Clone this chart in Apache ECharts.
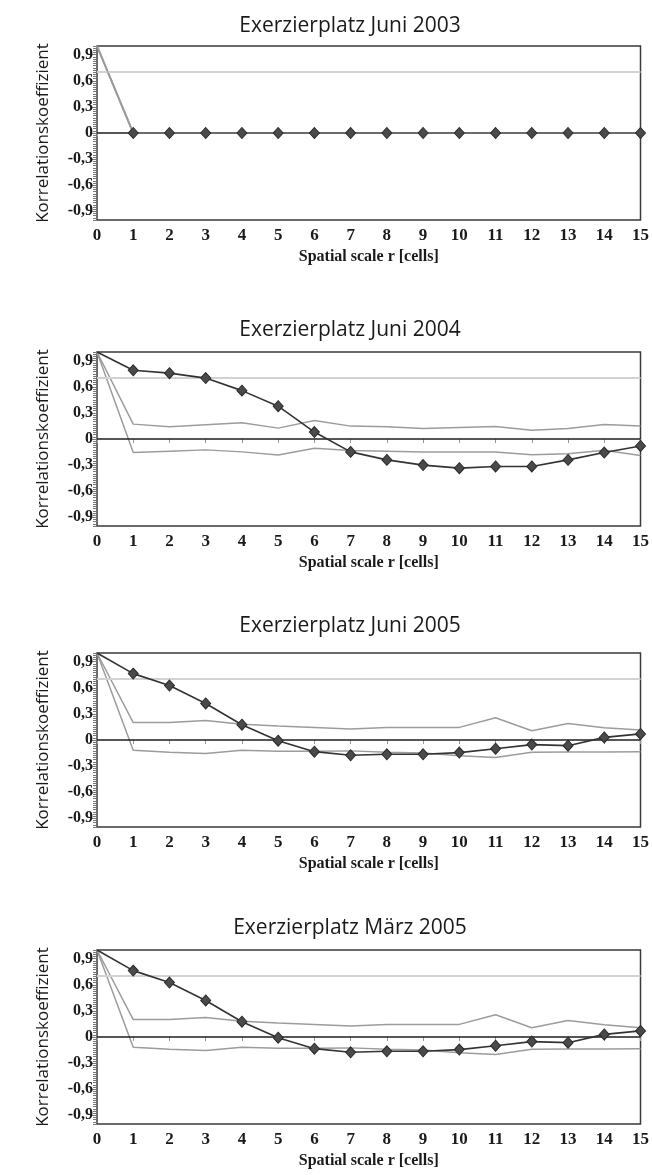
<!DOCTYPE html>
<html>
<head>
<meta charset="utf-8">
<script src="https://cdn.jsdelivr.net/npm/echarts@6/dist/echarts.min.js"></script>
<style>
html,body{margin:0;padding:0;background:#fff;}
#chart{width:652px;height:1175px;}
</style>
</head>
<body>
<div id="chart"></div>
<script>
// ---- data ----
const xCells = [0,1,2,3,4,5,6,7,8,9,10,11,12,13,14,15];
const yTickValues = [-0.9,-0.6,-0.3,0,0.3,0.6,0.9];
const panelTitles = ['Exerzierplatz Juni 2003','Exerzierplatz Juni 2004','Exerzierplatz Juni 2005','Exerzierplatz März 2005'];
const xAxisTitle = 'Spatial scale r [cells]';
const yAxisTitle = 'Korrelationskoeffizient';
const thresholdValue = 0.7;

const jun2003Main  = [1,0,0,0,0,0,0,0,0,0,0,0,0,0,0,0];
const jun2003Upper = [1,0,0,0,0,0,0,0,0,0,0,0,0,0,0,0];
const jun2003Lower = [1,0,0,0,0,0,0,0,0,0,0,0,0,0,0,0];

const jun2004Main  = [1,0.79,0.757,0.70,0.556,0.377,0.08,-0.148,-0.24,-0.30,-0.335,-0.316,-0.316,-0.24,-0.156,-0.08];
const jun2004Upper = [1,0.171,0.14,0.164,0.186,0.125,0.213,0.148,0.14,0.12,0.133,0.145,0.10,0.12,0.167,0.15];
const jun2004Lower = [1,-0.156,-0.14,-0.125,-0.148,-0.183,-0.107,-0.133,-0.14,-0.15,-0.15,-0.15,-0.18,-0.17,-0.13,-0.19];

const jun2005Main  = [1,0.763,0.626,0.42,0.176,-0.008,-0.134,-0.176,-0.164,-0.164,-0.145,-0.10,-0.053,-0.065,0.03,0.07];
const jun2005Upper = [1,0.20,0.20,0.225,0.18,0.16,0.145,0.126,0.145,0.145,0.145,0.256,0.107,0.19,0.14,0.115];
const jun2005Lower = [1,-0.118,-0.14,-0.156,-0.118,-0.13,-0.13,-0.125,-0.14,-0.15,-0.18,-0.20,-0.14,-0.137,-0.137,-0.134];

const mar2005Main  = [1,0.763,0.626,0.42,0.176,-0.008,-0.134,-0.176,-0.164,-0.164,-0.145,-0.10,-0.053,-0.065,0.03,0.07];
const mar2005Upper = [1,0.20,0.20,0.225,0.18,0.16,0.145,0.126,0.145,0.145,0.145,0.256,0.107,0.19,0.14,0.105];
const mar2005Lower = [1,-0.118,-0.14,-0.156,-0.118,-0.13,-0.13,-0.125,-0.14,-0.15,-0.18,-0.20,-0.14,-0.137,-0.137,-0.134];

const panels = [
  {main: jun2003Main, upper: jun2003Upper, lower: jun2003Lower},
  {main: jun2004Main, upper: jun2004Upper, lower: jun2004Lower},
  {main: jun2005Main, upper: jun2005Upper, lower: jun2005Lower},
  {main: mar2005Main, upper: mar2005Upper, lower: mar2005Lower}
];

// ---- layout / style ----
const gridTops = [46, 352, 653, 950];
const gridHeight = 174;
const titleTops = [11, 315, 611, 913];
const serif = '"Liberation Serif", "DejaVu Serif", serif';
const sans = '"Open Sans", "Noto Sans", sans-serif';
const envColor = '#9c9c9c';
const mainColor = '#333333';

function pairs(arr){ return arr.map((v,i)=>[xCells[i], v]); }
function fmt(v){
  if (Math.abs(v) < 1e-9) return '0';
  return (Math.round(v*10)/10).toFixed(1).replace('.', ',');
}

const option = {
  animation: false,
  backgroundColor: '#ffffff',
  title: [], grid: [], xAxis: [], yAxis: [], series: []
};

panels.forEach((p, k) => {
  option.title.push({
    text: panelTitles[k], left: 345, top: titleTops[k], textAlign: 'center',
    textStyle: {fontFamily: sans, fontSize: 21, fontWeight: 'normal', color: '#1a1a1a'}
  });
  option.grid.push({
    left: 97, width: 545, top: gridTops[k], height: gridHeight,
    show: true, borderColor: '#3a3a3a', borderWidth: 1.5, backgroundColor: 'transparent'
  });
  option.xAxis.push({
    type: 'value', gridIndex: k, min: 0, max: 15, interval: 1,
    name: xAxisTitle, nameLocation: 'middle', nameGap: 29,
    nameTextStyle: {fontFamily: serif, fontSize: 16, fontWeight: 'bold', color: '#1a1a1a'},
    axisLine: {show: false},
    axisTick: {show: true, length: 4, lineStyle: {color: '#999', width: 1}},
    axisLabel: {fontFamily: serif, fontSize: 17, fontWeight: 'bold', color: '#1a1a1a', margin: 7,
      showMinLabel: true, showMaxLabel: true},
    splitLine: {show: false}
  });
  option.yAxis.push({
    type: 'value', gridIndex: k, min: -1, max: 1,
    name: yAxisTitle, nameLocation: 'middle', nameGap: 45,
    nameTextStyle: {fontFamily: sans, fontSize: 17, color: '#1a1a1a'},
    axisLine: {show: false},
    axisTick: {show: true, customValues: yTickValues, length: 5, lineStyle: {color: '#888'}},
    axisLabel: {customValues: yTickValues, formatter: fmt, fontFamily: serif, fontSize: 16,
      fontWeight: 'bold', color: '#1a1a1a', margin: 4},
    splitLine: {show: false}
  });
  option.yAxis.push({
    type: 'value', gridIndex: k, min: -1, max: 1, interval: 0.025, position: 'left', offset: 0,
    axisLine: {show: false},
    axisTick: {show: true, length: 4, lineStyle: {color: '#777', width: 1}},
    axisLabel: {show: false},
    splitLine: {show: false}
  });
  const yIdx = k * 2;
  const mainSeriesData = pairs(p.main).map((d, i) => i === 0 ? {value: d, symbol: 'none'} : {value: d});
  option.series.push({
    type: 'line', xAxisIndex: k, yAxisIndex: yIdx, data: pairs(p.lower),
    showSymbol: false, symbol: 'none', z: 2,
    lineStyle: {color: envColor, width: 1.5},
    markLine: {
      silent: true, symbol: 'none', label: {show: false},
      data: [
        {yAxis: thresholdValue, lineStyle: {color: '#d2d2d2', width: 2, type: 'solid'}},
        {yAxis: 0, lineStyle: {color: '#1e1e1e', width: 1.5, type: 'solid'}}
      ]
    }
  });
  option.series.push({
    type: 'line', xAxisIndex: k, yAxisIndex: yIdx, data: pairs(p.upper),
    showSymbol: false, symbol: 'none', z: 3,
    lineStyle: {color: envColor, width: k === 0 ? 2 : 1.5}
  });
  option.series.push({
    type: 'line', xAxisIndex: k, yAxisIndex: yIdx, data: mainSeriesData,
    symbol: 'diamond', symbolSize: [10, 11], z: 5,
    lineStyle: {color: k === 0 ? envColor : mainColor, width: k === 0 ? 1 : 1.6},
    itemStyle: {color: '#4a4a4a', borderColor: '#2a2a2a', borderWidth: 1}
  });
  // series bound to the minor-tick axis so that it is laid out and drawn
  option.series.push({
    type: 'line', xAxisIndex: k, yAxisIndex: yIdx + 1, data: [],
    showSymbol: false, silent: true
  });
});

const chart = echarts.init(document.getElementById('chart'), null, {renderer: 'canvas'});
chart.setOption(option);
</script>
</body>
</html>
